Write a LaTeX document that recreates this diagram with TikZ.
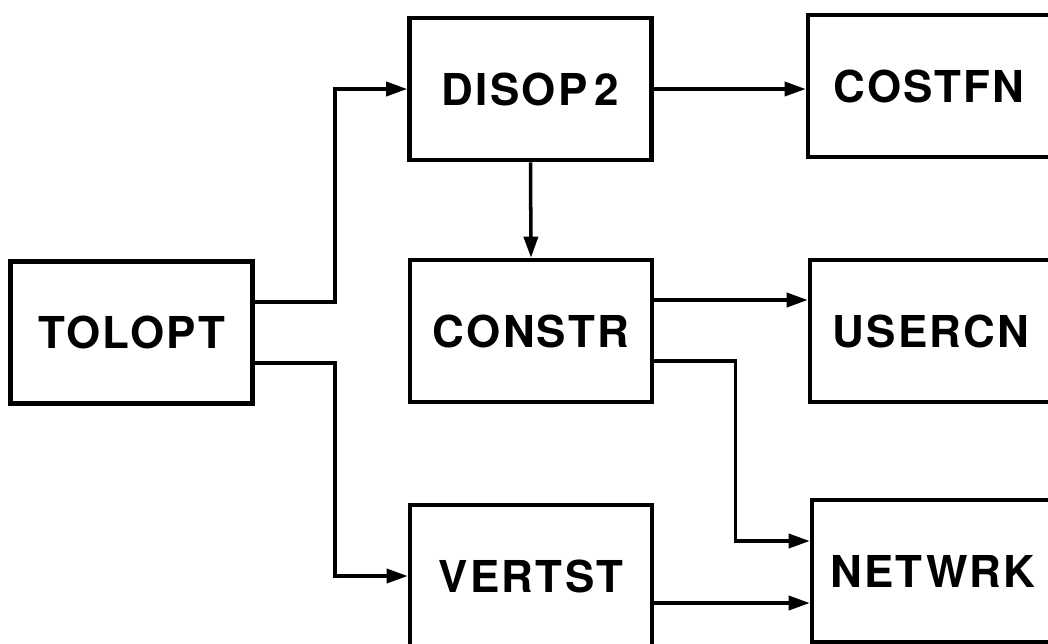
\documentclass[tikz,border=0pt]{standalone}
\usepackage{fontspec}
\setmainfont{TeX Gyre Heros}
\newfontfamily\boxfont[LetterSpace=5]{TeX Gyre Heros}
\usetikzlibrary{arrows.meta, positioning}

\begin{document}
\begin{tikzpicture}[
    module/.style={rectangle, draw=black, line width=2.6pt, minimum width=4.84cm, minimum height=2.84cm, align=center, font=\boxfont\fontsize{25}{28}\selectfont\bfseries, inner sep=0pt},
    arrow/.style={-{Triangle[length=12pt, width=8pt]}, line width=2pt, black},
]

\clip (0, 0) rectangle (20.96, -12.86);

% === Modules ===
\node[module] (tolopt) at (2.63, -6.65) {TOLOPT};
\node[module] (disop)  at (10.61, -1.78) {DISOP\,2};
\node[module] (constr) at (10.62, -6.62) {CONSTR};
\node[module] (vertst) at (10.62, -11.52) {VERTST};
\node[module] (costfn) at (18.58, -1.72) {COSTFN};
\node[module] (usercn) at (18.62, -6.62) {USERCN};
\node[module] (netwrk) at (18.66, -11.42) {NETWRK};

% === Calls from TOLOPT ===
\draw[arrow] ([yshift=0.61cm]tolopt.east) -- ++(1.6, 0) |- (disop.west);
\draw[arrow] ([yshift=-0.61cm]tolopt.east) -- ++(1.6, 0) |- (vertst.west);

% === Calls from DISOP2 ===
\draw[arrow] (disop.east) -- (disop.east -| costfn.west);
\draw[arrow] (disop.south) -- (constr.north);

% === Calls from CONSTR ===
\draw[arrow] ([yshift=0.62cm]constr.east) -- ([yshift=0.62cm]constr.east -| usercn.west);
\draw[arrow] ([yshift=-0.6cm]constr.east) -- ++(1.62, 0) |- ([yshift=0.6cm]netwrk.west);

% === Calls from VERTST ===
\draw[arrow] ([yshift=-0.54cm]vertst.east) -- ([yshift=-0.54cm]vertst.east -| netwrk.west);

\end{tikzpicture}
\end{document}
